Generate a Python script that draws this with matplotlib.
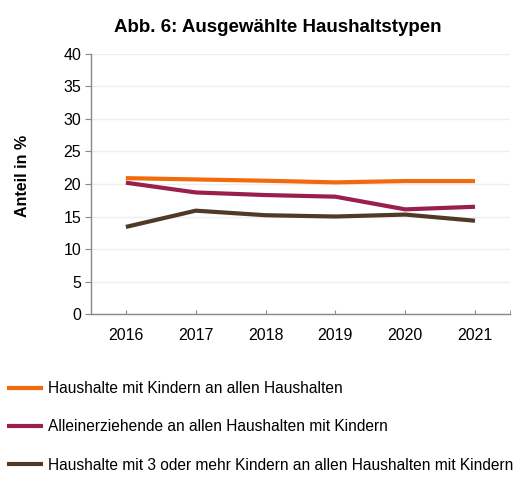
import matplotlib
matplotlib.use('Agg')
import matplotlib.pyplot as plt

plt.rcParams['font.family'] = ['Liberation Sans', 'DejaVu Sans']

years = ['2016', '2017', '2018', '2019', '2020', '2021']
hh_mit_kindern = [20.9, 20.7, 20.5, 20.25, 20.45, 20.45]
alleinerziehende = [20.2, 18.7, 18.3, 18.05, 16.1, 16.5]
drei_oder_mehr = [13.4, 15.9, 15.2, 15.0, 15.3, 14.35]

labels = ['Haushalte mit Kindern an allen Haushalten',
          'Alleinerziehende an allen Haushalten mit Kindern',
          'Haushalte mit 3 oder mehr Kindern an allen Haushalten mit Kindern']
colors = ['#F26A0C', '#9A1F4E', '#4F3A28']

fig = plt.figure(figsize=(5.25, 4.9), dpi=100)
ax = fig.add_axes([0.1733, 0.359, 0.798, 0.531])

x = range(len(years))
for vals, lab, col in zip([hh_mit_kindern, alleinerziehende, drei_oder_mehr], labels, colors):
    ax.plot(x, vals, color=col, linewidth=3, label=lab, solid_capstyle='butt')

ax.set_xlim(-0.5, 5.5)
ax.set_ylim(0, 40)
ax.set_yticks(range(0, 41, 5))
ax.set_xticks(list(x))
ax.set_xticklabels(years)
ax.set_xticks([5.5], minor=True)
ax.grid(axis='y', color='#eeeeee', linewidth=1)
ax.set_axisbelow(True)

for s in ['top', 'right']:
    ax.spines[s].set_visible(False)
for s in ['left', 'bottom']:
    ax.spines[s].set_color('#888888')
    ax.spines[s].set_linewidth(1)

ax.tick_params(axis='y', direction='out', length=4, color='#888888', labelsize=11.5, pad=3)
ax.tick_params(axis='x', which='both', direction='in', length=3, color='#888888', labelsize=11.5, pad=10)

ax.set_ylabel('Anteil in %', fontsize=11.5, fontweight='bold')
ax.yaxis.set_label_coords(-0.145, 0.53)
fig.text(0.53, 0.943, 'Abb. 6: Ausgewählte Haushaltstypen', ha='center', va='center',
         fontsize=13.5, fontweight='bold')

fig.legend(loc='upper left', bbox_to_anchor=(7 / 525, 1 - 381 / 490), frameon=False,
           fontsize=11.2, handlelength=2.3, handletextpad=0.33, labelspacing=1.5,
           borderpad=0, borderaxespad=0)

fig.savefig('out.png', dpi=100)
